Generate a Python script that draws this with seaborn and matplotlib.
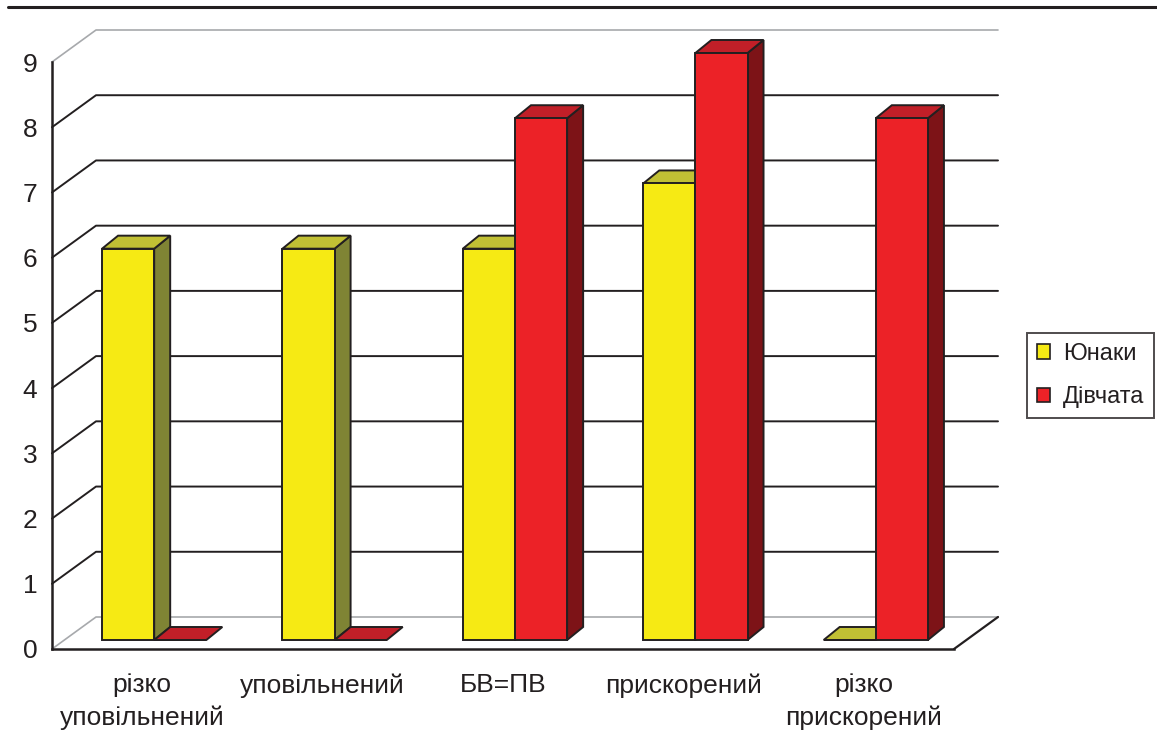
import numpy as np
import pandas as pd
import matplotlib
matplotlib.use("Agg")
import matplotlib.pyplot as plt
from matplotlib.patches import Polygon, Patch
from matplotlib.lines import Line2D
from matplotlib.transforms import ScaledTranslation, IdentityTransform
import seaborn as sns

# ---- data -------------------------------------------------------------
categories = ["різко\nуповільнений", "уповільнений", "БВ=ПВ", "прискорений", "різко\nприскорений"]
series_names = ["Юнаки", "Дівчата"]
boys = [6, 6, 6, 7, 0]
girls = [0, 0, 8, 9, 8]
y_ticks = list(range(0, 10))

front_colors = {"Юнаки": "#F6EA14", "Дівчата": "#EC2227"}
top_colors = {"Юнаки": "#C1C034", "Дівчата": "#C11F28"}
side_colors = {"Юнаки": "#7F8434", "Дівчата": "#7D1317"}
edge = "#231F20"

df = pd.DataFrame({
    "category": categories * 2,
    "series": [series_names[0]] * len(categories) + [series_names[1]] * len(categories),
    "value": boys + girls,
})

# ---- figure ------------------------------------------------------------
W, H, DPI = 1157, 734, 100
sns.set_theme(style="white")
plt.rcParams["font.family"] = ["Liberation Sans", "DejaVu Sans"]

fig = plt.figure(figsize=(W / DPI, H / DPI), dpi=DPI)
# axes = front plane of the 3-D box (pixel geometry of the floor front edge)
x0_px, x1_px = 52, 954
ybot_px, ytop_px = 649, 62
ax = fig.add_axes([x0_px / W, 1 - ybot_px / H, (x1_px - x0_px) / W, (ybot_px - ytop_px) / H])

sns.barplot(data=df, x="category", y="value", hue="series", order=categories,
            hue_order=series_names, palette=front_colors, saturation=1,
            width=0.578, dodge=True, edgecolor=edge, linewidth=1.4,
            legend=False, ax=ax)

ax.set_xlim(-0.5, len(categories) - 0.5)
ax.set_ylim(0, 9)
ax.set_xlabel("")
ax.set_ylabel("")

# depth offsets (pixels)
bar_shift = (12, 9)      # bar front face relative to the floor front edge
bar_depth = (16, 13)     # thickness of each bar
wall = (44, 32)          # depth of the whole box

to_px = ax.transData.transform
shift_tr = ax.transData + ScaledTranslation(bar_shift[0] / DPI, bar_shift[1] / DPI, fig.dpi_scale_trans)
ident = IdentityTransform()

# ---- back wall, side wall and floor -------------------------------------
for v in y_ticks:
    xf, yf = to_px((-0.5, v))
    xr, _ = to_px((len(categories) - 0.5, v))
    col = "#A7A9AC" if v in (0, 9) else "#231F20"
    lw = 1.2 if v in (0, 9) else 1.4
    ax.add_line(Line2D([xf, xf + wall[0], xr + wall[0]], [yf, yf + wall[1], yf + wall[1]],
                       transform=ident, color=col, lw=lw, zorder=0.5, clip_on=False))
xr, yr = to_px((len(categories) - 0.5, 0))
ax.add_line(Line2D([xr, xr + wall[0]], [yr, yr + wall[1]], transform=ident,
                   color="#231F20", lw=1.6, zorder=0.6, clip_on=False))

# ---- 3-D bars ----------------------------------------------------------
for h, (name, cont) in enumerate(zip(series_names, ax.containers)):
    for rect in cont.patches:
        rect.set_transform(shift_tr)
        rect.set_clip_on(False)
        rect.set_zorder(4 + 3 * h)
        x, w, ht = rect.get_x(), rect.get_width(), rect.get_height()
        (lx, by) = shift_tr.transform((x, 0))
        (rx, ty) = shift_tr.transform((x + w, ht))
        dx, dy = bar_depth
        top = Polygon([(lx, ty), (rx, ty), (rx + dx, ty + dy), (lx + dx, ty + dy)],
                      closed=True, transform=ident, facecolor=top_colors[name],
                      edgecolor=edge, lw=1.4, zorder=3 + 3 * h, clip_on=False)
        ax.add_patch(top)
        if ht > 0:
            side = Polygon([(rx, by), (rx + dx, by + dy), (rx + dx, ty + dy), (rx, ty)],
                           closed=True, transform=ident, facecolor=side_colors[name],
                           edgecolor=edge, lw=1.4, zorder=2 + 3 * h, clip_on=False)
            ax.add_patch(side)

# ---- axes styling ------------------------------------------------------
for s in ("top", "right"):
    ax.spines[s].set_visible(False)
for s in ("left", "bottom"):
    ax.spines[s].set_color("#231F20")
    ax.spines[s].set_linewidth(1.8)
    ax.spines[s].set_zorder(1)

ax.set_yticks(y_ticks)
ax.set_yticklabels([str(v) for v in y_ticks])
ax.tick_params(axis="y", direction="out", length=3.5, width=1.4, color="#231F20",
               labelsize=19, pad=7, labelcolor="#231F20")

bounds = np.arange(-0.5, len(categories), 1.0)
ax.set_xticks(bounds)
ax.set_xticklabels([])
ax.tick_params(axis="x", which="major", direction="out", length=6, width=1.4, color="#231F20")
ax.set_xticks(range(len(categories)), minor=True)
ax.set_xticklabels(categories, minor=True, fontsize=19, color="#231F20", linespacing=1.4)
ax.tick_params(axis="x", which="minor", length=0, pad=17.5)

# ---- legend ------------------------------------------------------------
handles = [Patch(facecolor=front_colors[n], edgecolor=edge, lw=1.2) for n in series_names]
leg = fig.legend(handles, series_names, loc="upper left",
                 bbox_to_anchor=(1027 / W, 1 - 333 / H), bbox_transform=fig.transFigure,
                 fontsize=17, frameon=True, fancybox=False, borderaxespad=0,
                 handlelength=0.55, handleheight=0.55, handletextpad=0.55,
                 borderpad=0.42, labelspacing=0.9, labelcolor="#231F20")
leg.get_frame().set_edgecolor("#231F20")
leg.get_frame().set_linewidth(1.4)

# top rule across the page
fig.add_artist(Line2D([8 / W, 1.0], [1 - 7 / H, 1 - 7 / H], transform=fig.transFigure,
                      color="#231F20", lw=2.2))

fig.savefig("out.png", dpi=DPI)
